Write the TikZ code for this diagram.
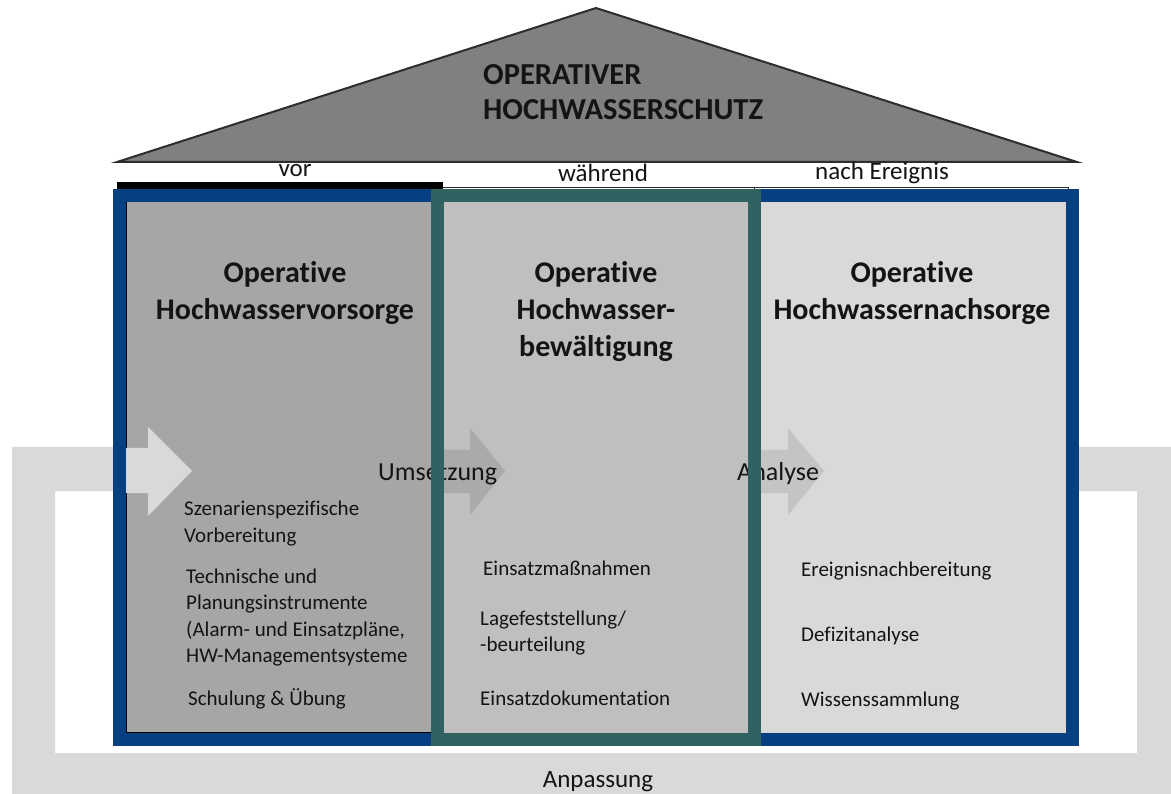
\documentclass[tikz,border=0pt]{standalone}
\usepackage{fontspec}
\setmainfont[Ligatures=NoCommon]{Carlito}
\definecolor{hblue}{RGB}{8,63,128}
\definecolor{hteal}{RGB}{49,98,98}
\definecolor{roofgray}{RGB}{128,128,128}
\definecolor{roofline}{RGB}{45,45,45}
\definecolor{colA}{RGB}{166,166,166}
\definecolor{colB}{RGB}{191,191,191}
\definecolor{colC}{RGB}{217,217,217}
\definecolor{arrB}{RGB}{170,170,170}
\definecolor{arrC}{RGB}{196,196,196}
\definecolor{txt}{RGB}{20,20,20}
\begin{document}
\begin{tikzpicture}[x=1pt,y=-1pt,
  titletext/.style={font=\fontsize{30.5}{35}\selectfont\bfseries, text=txt, inner sep=0, anchor=base west},
  heading/.style={font=\fontsize{30}{37}\selectfont\bfseries, text=txt, inner sep=0, anchor=base},
  label/.style={font=\fontsize{25}{30}\selectfont, text=txt, inner sep=0, anchor=base},
  flowlabel/.style={font=\fontsize{26}{30}\selectfont, text=txt, inner sep=0, anchor=base west},
  body/.style={font=\fontsize{21}{26}\selectfont, text=txt, inner sep=0, anchor=base west}]
\useasboundingbox (0,0) rectangle (1171,794);
\fill[white] (0,0) rectangle (1171,794);
% feedback loop band
\fill[colC, even odd rule] (12,447) rectangle (1171,794) (55,491) rectangle (1137,753);
% roof
\filldraw[fill=roofgray, draw=roofline, line width=2, line join=miter] (117,162) -- (596,8) -- (1077,162) -- cycle;
\node[titletext] (t1) at (483,85) {OPERATIVER};
\node[titletext] (t2) at (483,120) {HOCHWASSERSCHUTZ};
% phase labels
\node[label] (vor) at (295,177) {vor};
\node[label] (waehrend) at (603,182) {während};
\node[label] (nach) at (882,180) {nach Ereignis};
% column fills
\fill[colA] (117,189) rectangle (437,740);
\fill[colB] (437,189) rectangle (754,740);
\fill[colC] (754,189) rectangle (1072,740);
% top bars
\fill[black] (117,182) rectangle (443,189.5);
\draw[roofline, line width=1] (443,187.5) -- (1068,187.5) -- (1068,191);
\draw[roofline, line width=1] (754,187.5) -- (754,191);
% left column outline
\draw[black, line width=1.8] (126.5,189) -- (126.5,732.5) -- (431,732.5);
% block arrows
\fill[colC] (113,448) -- (148,448) -- (148,427) -- (192,471) -- (148,516) -- (148,493) -- (113,493) -- cycle;
\fill[arrB] (431,450) -- (470,450) -- (470,428) -- (505,471) -- (470,515) -- (470,493) -- (431,493) -- cycle;
\fill[arrC] (760,450) -- (788,450) -- (788,428) -- (824,471) -- (788,515) -- (788,493) -- (760,493) -- cycle;
\node[flowlabel] (ums) at (378,480) {Umsetzung};
\node[flowlabel] (ana) at (737,480) {Analyse};
% frames
\draw[hblue, line width=12.5] (119.25,195.5) rectangle (1072.25,739.5);
\draw[hteal, line width=12.5] (437.25,195.5) rectangle (754.5,739.5);
% headings
\node[heading] (h1a) at (285,283) {Operative};
\node[heading] (h1b) at (285,320) {Hochwasservorsorge};
\node[heading] (h2a) at (596,283) {Operative};
\node[heading] (h2b) at (596,320) {Hochwasser-};
\node[heading] (h2c) at (596,357) {bewältigung};
\node[heading] (h3a) at (912,283) {Operative};
\node[heading] (h3b) at (912,320) {Hochwassernachsorge};
% body text left
\node[body] (l1) at (184,515) {Szenarienspezifische};
\node[body] (l2) at (184,542) {Vorbereitung};
\node[body] (l3) at (186,583) {Technische und};
\node[body] (l4) at (186,609) {Planungsinstrumente};
\node[body] (l5) at (186,636) {(Alarm- und Einsatzpläne,};
\node[body] (l6) at (186,662) {HW-Managementsysteme};
\node[body] (l7) at (188,705) {Schulung \& Übung};
% body text middle
\node[body] (m1) at (483,575) {Einsatzmaßnahmen};
\node[body] (m2) at (480,625) {Lagefeststellung/};
\node[body] (m3) at (480,651) {-beurteilung};
\node[body] (m4) at (480,705) {Einsatzdokumentation};
% body text right
\node[body] (r1) at (801,576) {Ereignisnachbereitung};
\node[body] (r2) at (801,641) {Defizitanalyse};
\node[body] (r3) at (801,706) {Wissenssammlung};
% bottom label
\node[label] (anp) at (598,787) {Anpassung};
\end{tikzpicture}
\end{document}
